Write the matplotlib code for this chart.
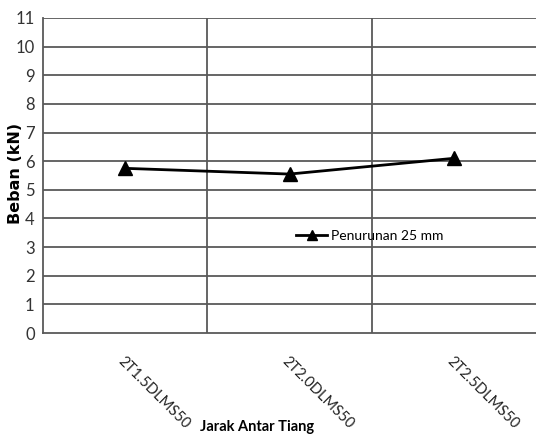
import matplotlib
matplotlib.use("Agg")
import matplotlib.pyplot as plt
import numpy as np

plt.rcParams['font.family'] = ['Lato', 'DejaVu Sans']

# data
categories = ["2T1.5DLMS50", "2T2.0DLMS50", "2T2.5DLMS50"]
beban = [5.75, 5.55, 6.1]
series_name = "Penurunan 25 mm"

GRID = "#595959"

fig = plt.figure(figsize=(5.36, 4.48), dpi=100)
ax = fig.add_axes([43 / 536, 115 / 448, 493 / 536, 315 / 448])

x = np.arange(len(categories))
ax.plot(x, beban, color="black", lw=2.0, marker="^", markersize=10,
        label=series_name, zorder=4)

ax.set_xlim(-0.5, len(categories) - 0.5)
ax.set_ylim(0, 11)
ax.set_yticks(range(0, 12))
ax.tick_params(axis="y", length=0, labelsize=12, labelcolor="#333333", pad=6)

# horizontal grid at each integer, vertical lines between categories
for yv in range(1, 12):
    ax.axhline(yv, color=GRID, lw=1.3, zorder=1)
for xv in np.arange(0.5, len(categories) - 0.5, 1.0):
    ax.axvline(xv, color=GRID, lw=1.3, zorder=1)

for s in ["top", "right"]:
    ax.spines[s].set_visible(False)
for s in ["left", "bottom"]:
    ax.spines[s].set_color(GRID)
    ax.spines[s].set_linewidth(1.3)

ax.set_xticks(x)
ax.set_xticklabels(categories, rotation=-45, ha="left", va="top",
                   rotation_mode="anchor", fontsize=10.5, color="#222222")
ax.tick_params(axis="x", length=0, pad=15)

ax.set_ylabel("Beban (kN)", fontsize=11.5, fontweight="bold",
              family="DejaVu Sans")
ax.yaxis.set_label_coords(-0.041, 0.505)
fig.text(257 / 536, 1 - 427 / 448, "Jarak Antar Tiang", fontsize=10.5,
         fontweight="bold", ha="center", va="center")

ax.legend(loc="center left", bbox_to_anchor=(0.50, 0.308), frameon=False,
          fontsize=10, handlelength=2.2, handletextpad=0.3, borderpad=0,
          markerscale=0.7)

fig.savefig("out.png", dpi=100)
